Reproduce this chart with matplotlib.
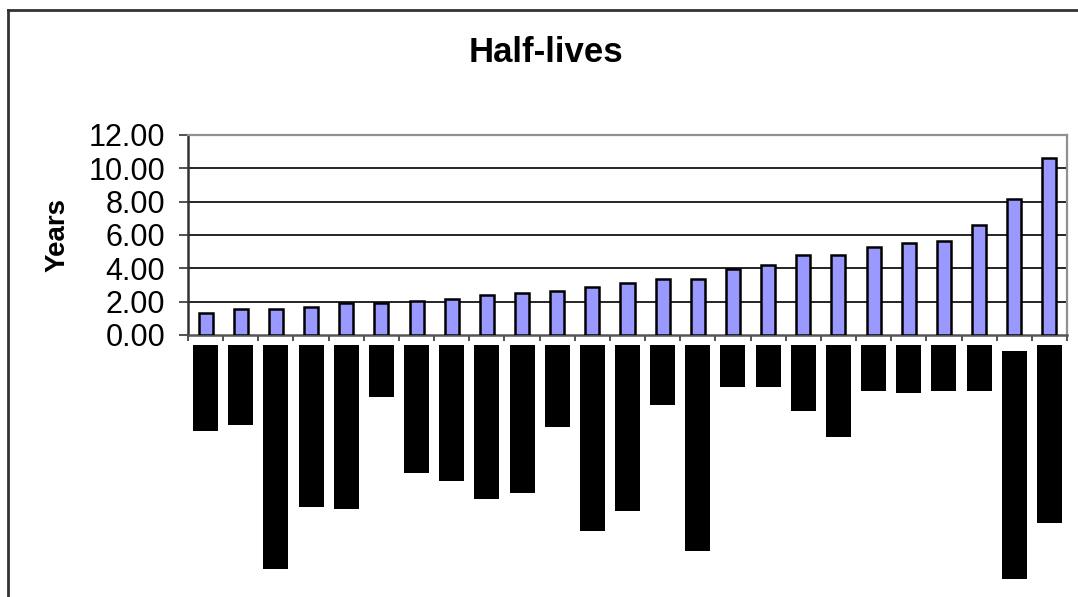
import matplotlib
matplotlib.use("Agg")
import matplotlib.pyplot as plt
from matplotlib.lines import Line2D
import numpy as np

plt.rcParams['font.family'] = ['Liberation Sans', 'DejaVu Sans']

# half-life of each item, in years (sorted ascending)
half_lives = [1.34, 1.56, 1.56, 1.70, 1.92, 1.92, 2.04, 2.16, 2.40, 2.52,
              2.64, 2.88, 3.12, 3.34, 3.34, 3.94, 4.18, 4.78, 4.78, 5.26,
              5.50, 5.62, 6.58, 8.14, 10.64]
# category labels are blacked out; lengths of the black blocks (px) and their start offset
label_len = [86, 80, 224, 162, 164, 52, 128, 136, 154, 148, 82, 186, 166,
             60, 206, 42, 42, 66, 92, 46, 48, 46, 46, 228, 178]
label_off = [0] * 23 + [6, 0]
y_ticks = [0, 2, 4, 6, 8, 10, 12]

W, H = 1078, 597
fig = plt.figure(figsize=(W / 100, H / 100), dpi=100)

def fbox(x0, y0, x1, y1):
    # pixel box (top-left origin) -> figure fraction
    return [x0 / W, 1 - y1 / H, (x1 - x0) / W, (y1 - y0) / H]

x = np.arange(len(half_lives))

ax = fig.add_axes(fbox(188, 135, 1067, 335))
ax.bar(x, half_lives, width=0.4, color='#9999FF', edgecolor='black', linewidth=1.8, zorder=3)
ax.set_xlim(-0.5, len(half_lives) - 0.5)
ax.set_ylim(0, 12)
ax.set_yticks(y_ticks)
ax.set_yticklabels([f"{v:.2f}" for v in y_ticks], fontsize=22)
ax.set_xticks(np.arange(len(half_lives) + 1) - 0.5)
ax.set_xticklabels([])
ax.tick_params(axis='y', length=6.5, width=1.2, color='#333333', pad=10)
ax.tick_params(axis='x', length=4, width=1.2, color='#333333')
for v in y_ticks[1:-1]:
    ax.axhline(v, color='black', linewidth=1.2, zorder=1)
ax.spines['left'].set_color('#333333')
ax.spines['left'].set_linewidth(1.8)
ax.spines['bottom'].set_color('#555555')
ax.spines['bottom'].set_linewidth(1.8)
ax.spines['top'].set_color('#909090')
ax.spines['top'].set_linewidth(1.6)
ax.spines['right'].set_color('#909090')
ax.spines['right'].set_linewidth(1.6)

fig.text(58 / W, 1 - 235 / H, "Years", fontsize=20, fontweight='bold',
         rotation=90, ha='center', va='center')

# blacked-out category labels below the axis
lab = fig.add_axes(fbox(188, 345, 1067, 597))
lab.bar(x, label_len, bottom=label_off, width=0.71, color='black')
lab.set_xlim(-0.5, len(half_lives) - 0.5)
lab.set_ylim(252, 0)
lab.axis('off')

fig.text(546 / W, 1 - 53 / H, "Half-lives", fontsize=25, fontweight='bold',
         ha='center', va='center')

# chart frame (top and left edges)
fig.add_artist(Line2D([8 / W, 1], [1 - 10 / H, 1 - 10 / H], color='#333333', linewidth=2))
fig.add_artist(Line2D([8 / W, 8 / W], [0, 1 - 10 / H], color='#333333', linewidth=2))

fig.savefig("out.png", dpi=100)
